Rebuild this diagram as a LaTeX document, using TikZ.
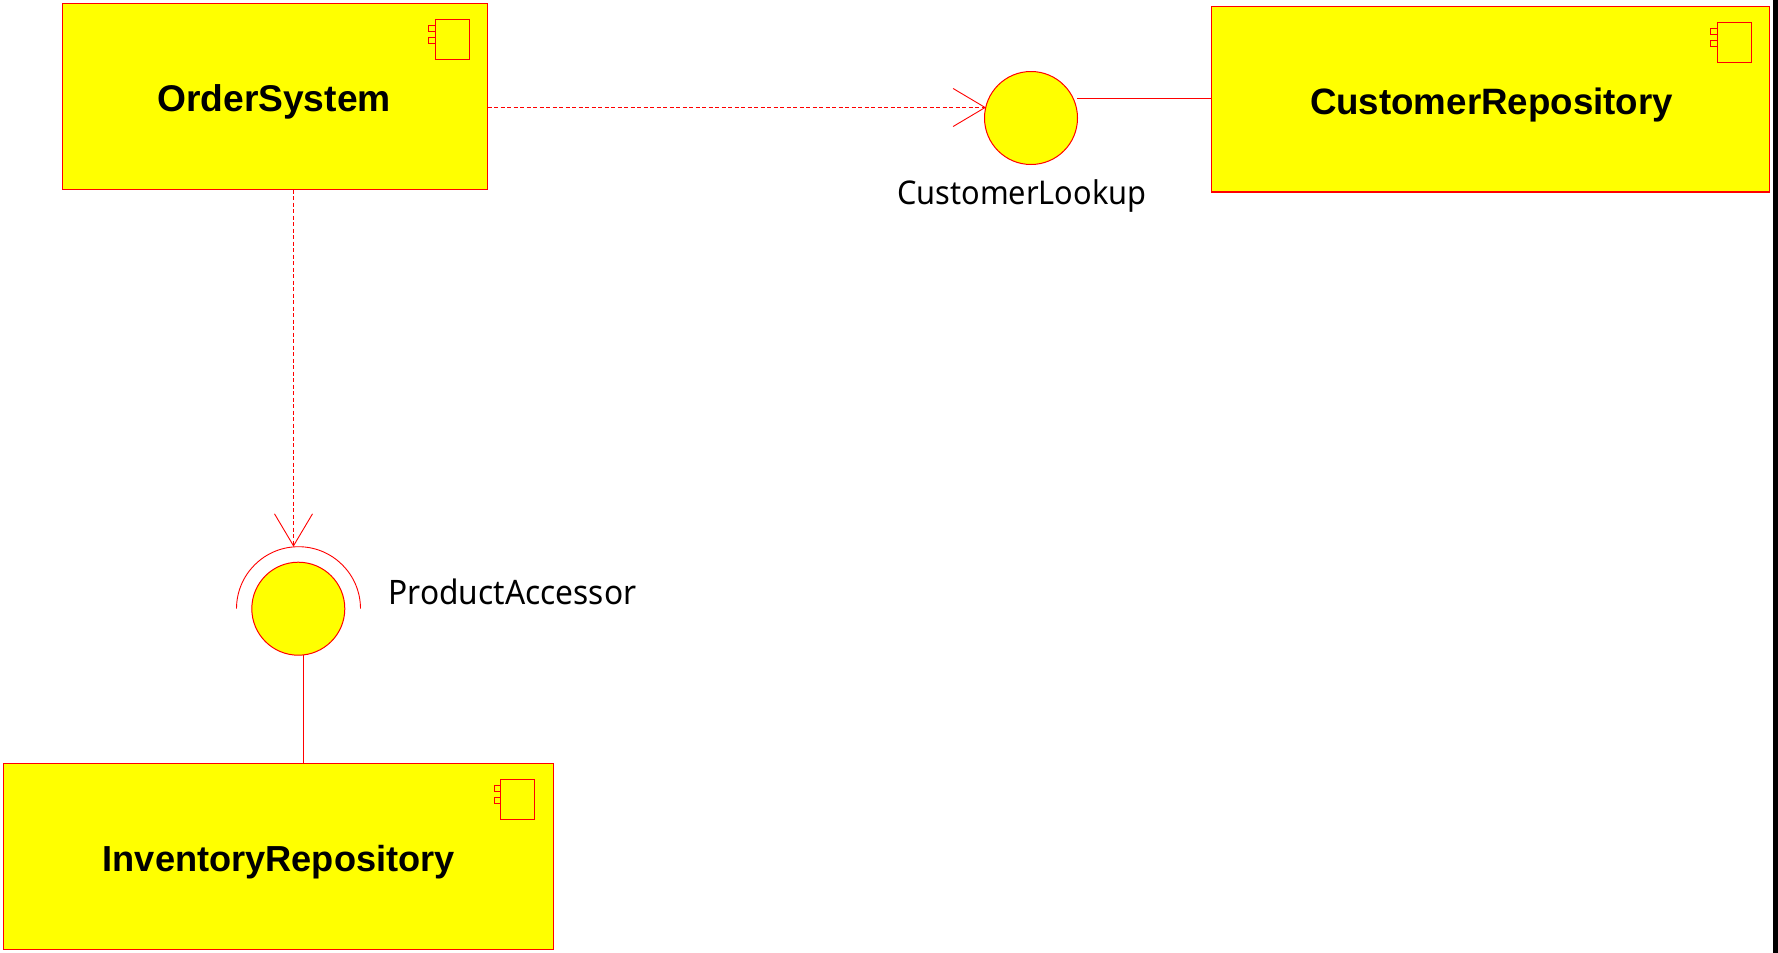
\documentclass[tikz,border=0pt]{standalone}
\usepackage{fontspec}
\setmainfont{Liberation Sans}
\newfontfamily\labelfont[FakeStretch=0.94]{Noto Sans}
\usetikzlibrary{arrows.meta}
\definecolor{umlred}{RGB}{255,0,0}
\definecolor{umlyellow}{RGB}{255,255,0}
\tikzset{
  x=1pt,y=-1pt,
  comp/.style={draw=umlred,fill=umlyellow,line width=1.1pt,rectangle,inner sep=0pt,outer sep=0pt},
  iconbox/.style={draw=umlred,fill=umlyellow,line width=1.1pt},
  iface/.style={circle,draw=umlred,fill=umlyellow,line width=1pt,inner sep=0pt,outer sep=0pt,minimum size=93pt},
  title/.style={font=\fontsize{#1}{40}\selectfont\bfseries,text=black,inner sep=0pt,anchor=base},
  ilabel/.style={font=\labelfont\fontsize{#1}{36}\selectfont,text=black,inner sep=0pt,anchor=base west},
  solidlink/.style={draw=umlred,line width=1.1pt},
  deplink/.style={draw=umlred,line width=0.9pt,dash pattern=on 4pt off 2.5pt,
    -{Straight Barb[length=32pt,width=38pt,line width=0.9pt]}},
}
\newcommand{\compicon}[3]{% x left, y top, small x left
  \draw[iconbox] (#1,#2) rectangle (#1+34,#2+40);
  \draw[iconbox] (#3,#2+6) rectangle (#1,#2+12);
  \draw[iconbox] (#3,#2+18) rectangle (#1,#2+24);
}
\begin{document}
\begin{tikzpicture}
\useasboundingbox (0,0) rectangle (1778,953);
\fill[white] (0,0) rectangle (1778,953);
\fill[black] (1773,0) rectangle (1778,953);
% components
\node[comp,minimum width=425pt,minimum height=186pt] (order) at (275,96.5) {};
\node[comp,minimum width=558pt,minimum height=185.5pt] (customer) at (1490.3,99.2) {};
\node[comp,minimum width=550.5pt,minimum height=186pt] (inventory) at (278.6,856.7) {};
\node[title=37.2] (ordert) at (274,111.2) {OrderSystem};
\node[title=36.7] (customert) at (1491.5,114.2) {CustomerRepository};
\node[title=36.2] (inventoryt) at (278.7,871) {InventoryRepository};
\compicon{435.5}{19.5}{428.6}
\compicon{1717.5}{22.5}{1710.5}
\compicon{500.6}{779.5}{494.5}
% interfaces
\node[iface] (lookup) at (1031,118) {};
\node[iface] (accessor) at (298.3,608.7) {};
\node[ilabel=32.7] (lookupt) at (897,204) {CustomerLookup};
\node[ilabel=33.7] (accessort) at (388.5,604.5) {ProductAccessor};
\draw[draw=umlred,line width=0.9pt] (236.5,608.7) arc[start angle=180,end angle=360,radius=62];
% connectors
\coordinate (lookupin) at (986,107.5);
\coordinate (accessorin) at (293.5,546.7);
\coordinate (lookupout) at (1077,98.5);
\coordinate (accessorout) at (303.3,655.3);
\draw[deplink] (order.east |- lookupin) -- (lookupin);
\draw[deplink] (order.south -| accessorin) -- (accessorin);
\draw[solidlink] (lookupout) -- (customer.west |- lookupout);
\draw[solidlink] (accessorout) -- (inventory.north -| accessorout);
\end{tikzpicture}
\end{document}
